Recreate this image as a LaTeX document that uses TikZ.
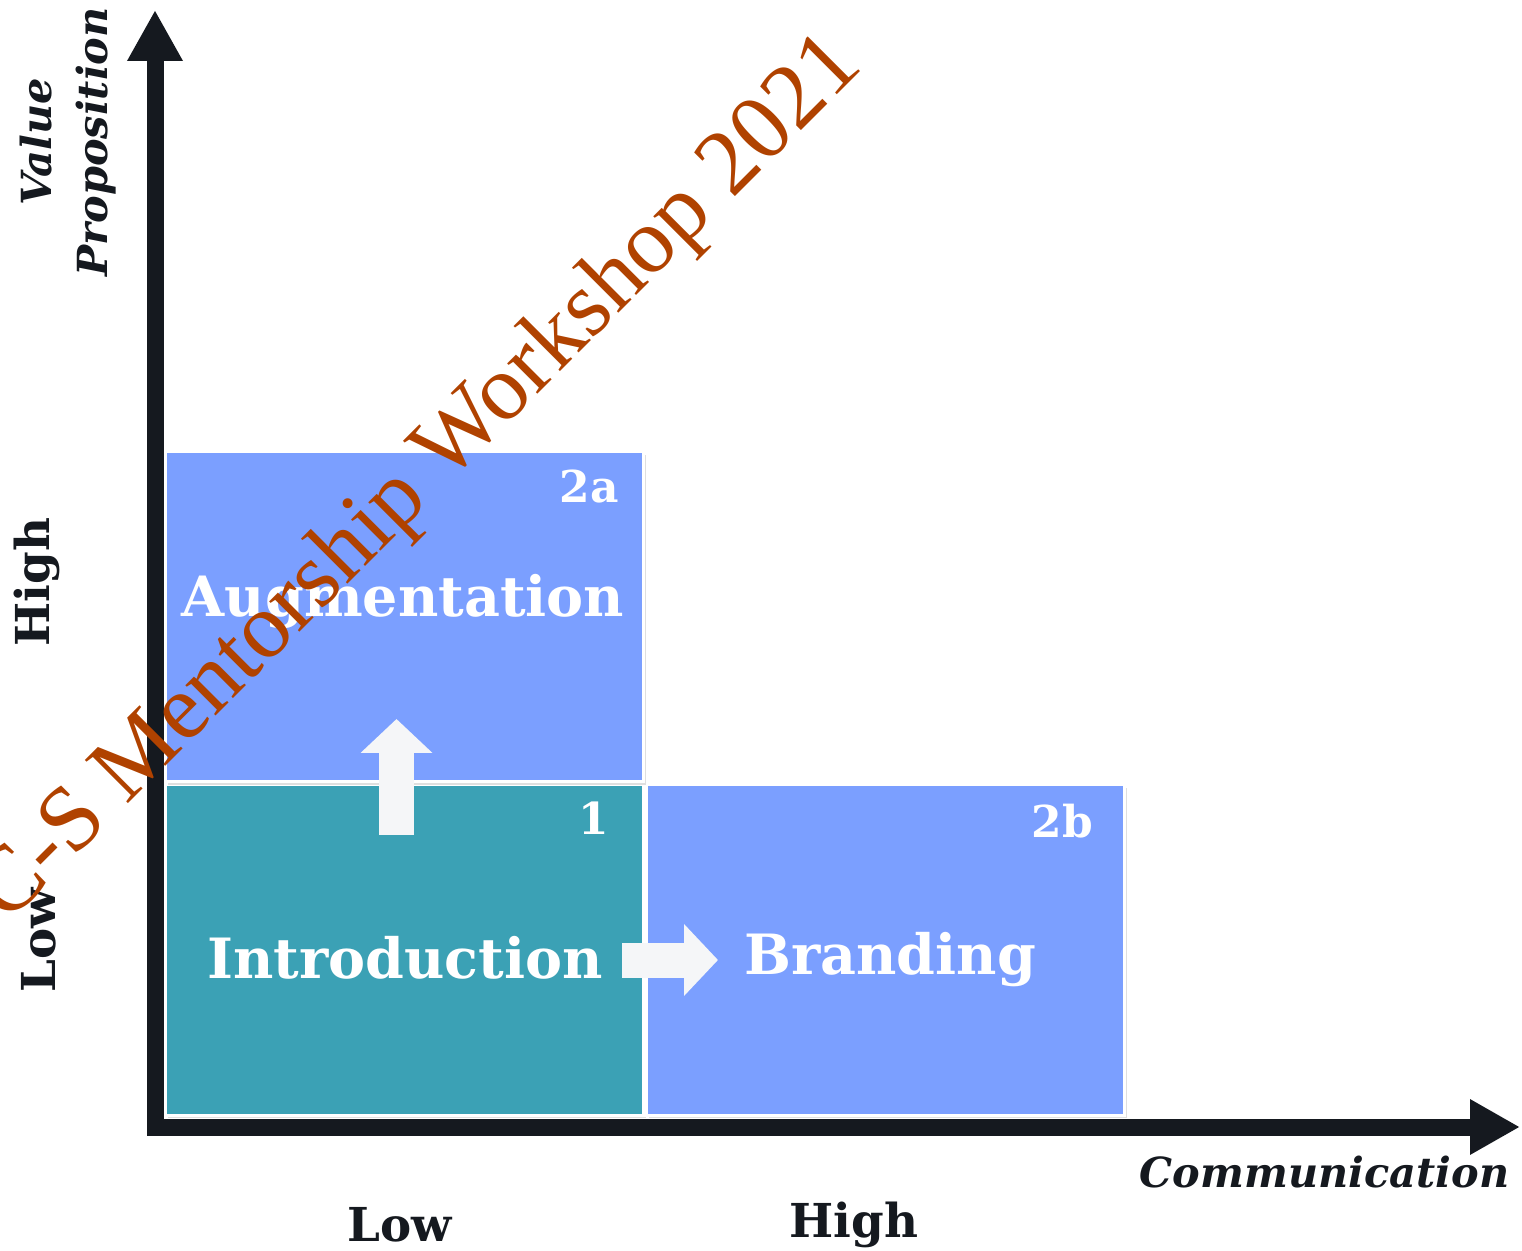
\documentclass[tikz,border=0pt]{standalone}
\usepackage{fontspec}
\setmainfont{DejaVu Serif}
\newfontfamily\markfont{Liberation Serif}
\usetikzlibrary{positioning,calc,arrows.meta,shadows}
\definecolor{axisdark}{RGB}{21,25,31}
\definecolor{cellblue}{RGB}{123,159,255}
\definecolor{cellteal}{RGB}{59,161,181}
\definecolor{arrowwhite}{RGB}{245,246,248}
\definecolor{markbrown}{RGB}{176,66,0}

\begin{document}
\begin{tikzpicture}[
	axis/.style={line width=0.17cm,draw=axisdark,{Triangle[width=0.52cm,length=0.51cm]}-{Triangle[width=0.52cm,length=0.5cm]}},
	cell/.style={draw=white,line width=0.03cm,minimum width=4.78cm,minimum height=3.3cm,inner sep=0pt,
		drop shadow={shadow xshift=0.025cm,shadow yshift=-0.03cm,opacity=0.25}},
	celltext/.style={text=white,font=\bfseries\fontsize{15.8}{19}\selectfont},
	tag/.style={text=white,font=\bfseries\fontsize{12.5}{15}\selectfont,anchor=east,inner sep=0pt},
	blockarrow/.style={line width=0.35cm,draw=arrowwhite,-{Triangle[width=0.7cm,length=0.34cm]}},
	axislabel/.style={text=axisdark,font=\bfseries\fontsize{13.3}{16}\selectfont},
	axistitle/.style={text=axisdark,font=\bfseries\itshape\fontsize{11.8}{16}\selectfont},
	watermark/.style={text=markbrown,font=\markfont\fontsize{26.5}{30}\selectfont,rotate=45}
	]
	\useasboundingbox (0,0) rectangle (15.22,12.5);
	% axes
	\coordinate (origin) at (1.55,1.23);
	\coordinate (ytip) at (1.55,12.40);
	\coordinate (xtip) at (15.20,1.23);
	\draw[axis] (ytip) -- (origin) -- (xtip);
	% cells
	\node[cell,fill=cellteal] (intro) at (4.04,3.00) {};
	\node[cell,fill=cellblue,right=0pt of intro] (brand) {};
	\node[cell,fill=cellblue,above=0pt of intro] (augm) {};
	\node[celltext] (introtext) at ($(intro)+(0.01,-0.08)$) {Introduction};
	\node[celltext] (brandtext) at ($(brand)+(0.05,-0.1)$) {Branding};
	\node[celltext] (augmtext) at ($(augm)+(-0.01,0.15)$) {Augmentation};
	\node[tag] (tagone) at ($(intro.north east)+(-0.35,-0.35)$) {1};
	\node[tag] (tagtwoa) at ($(augm.north east)+(-0.25,-0.36)$) {2a};
	\node[tag] (tagtwob) at ($(brand.north east)+(-0.32,-0.38)$) {2b};
	% moves between cells
	\coordinate (upfrom) at (3.965,4.15);
	\coordinate (upto) at (3.965,5.31);
	\coordinate (rightfrom) at (6.22,2.90);
	\coordinate (rightto) at (7.18,2.90);
	\draw[blockarrow] (upfrom) -- (upto);
	\draw[blockarrow] (rightfrom) -- (rightto);
	% axis labels
	\node[axistitle,rotate=90,align=center] (vprop) at (0.68,11.08) {Value\\Proposition};
	\node[axislabel,rotate=90] (yhigh) at (0.37,6.68) {High};
	\node[axislabel,rotate=90] (ylow) at (0.39,3.10) {Low};
	\node[axislabel] (xlow) at (4.00,0.25) {Low};
	\node[axislabel] (xhigh) at (8.54,0.25) {High};
	\node[axistitle,anchor=east,inner sep=0pt] (comm) at (15.10,0.78) {Communication};
	% watermark
	\node[watermark] (mark) at (4.2,7.70) {C-S Mentorship Workshop 2021};
\end{tikzpicture}
\end{document}
